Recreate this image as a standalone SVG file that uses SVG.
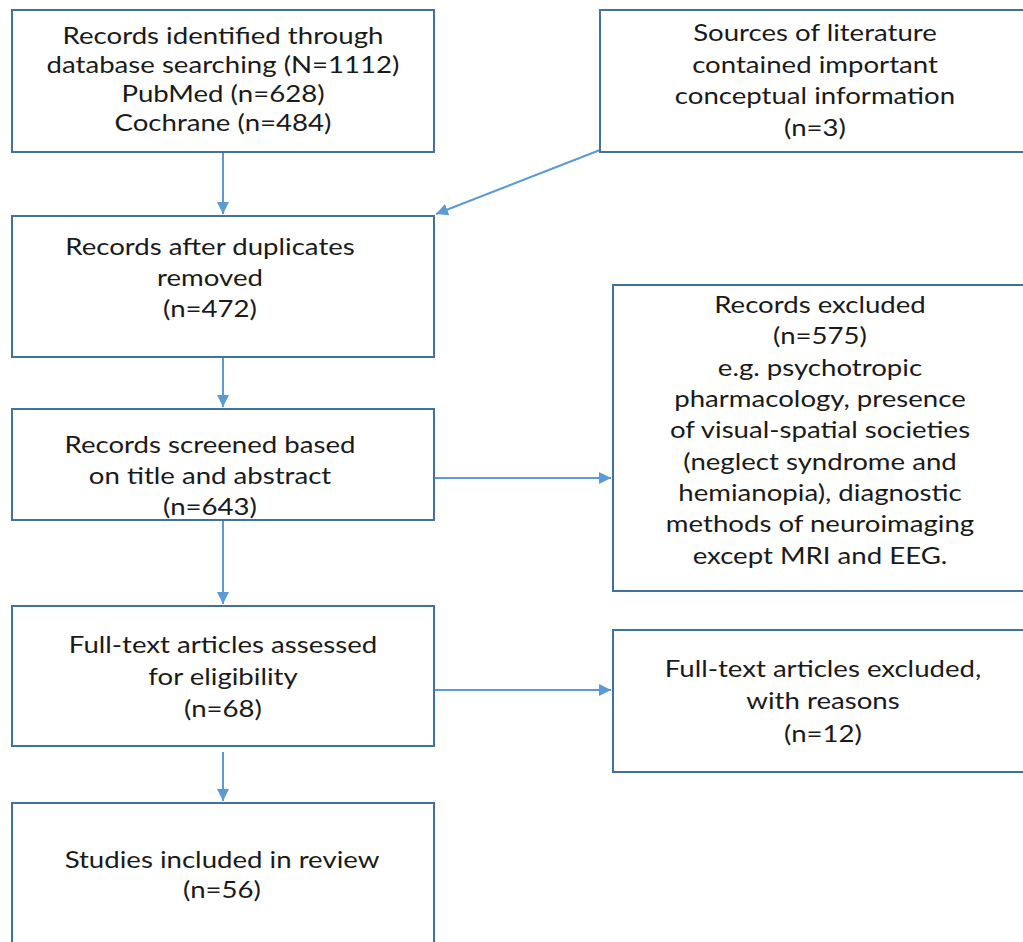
<svg xmlns="http://www.w3.org/2000/svg" width="1023" height="942" viewBox="0 0 1023 942">
<defs>
<style>
.box{fill:#fff;stroke:#41719c;stroke-width:2}
.t{font-family:Lato,"Open Sans","Liberation Sans",sans-serif;font-size:24px;fill:#1a1a1a;text-anchor:middle}
.c{stroke:#5b9bd5;stroke-width:2;fill:none}
</style>
<marker id="ah" viewBox="0 0 10 10" refX="10" refY="5" markerWidth="6" markerHeight="6" markerUnits="strokeWidth" orient="auto">
<path d="M0,0 L10,5 L0,10 z" fill="#5b9bd5"/>
</marker>
</defs>
<rect width="1023" height="942" fill="#fff"/>
<g id="connectors">
<line class="c" x1="223" y1="153" x2="223" y2="214" marker-end="url(#ah)"/>
<line class="c" x1="600" y1="150" x2="436" y2="214" marker-end="url(#ah)"/>
<line class="c" x1="223" y1="358" x2="223" y2="407" marker-end="url(#ah)"/>
<line class="c" x1="435" y1="478" x2="611" y2="478" marker-end="url(#ah)"/>
<line class="c" x1="223" y1="521" x2="223" y2="604" marker-end="url(#ah)"/>
<line class="c" x1="435" y1="690" x2="611" y2="690" marker-end="url(#ah)"/>
<line class="c" x1="223" y1="752" x2="223" y2="801" marker-end="url(#ah)"/>
</g>
<g id="n1">
<rect class="box" x="12" y="10" width="422" height="142"/>
<text class="t" transform="translate(223 0) scale(1.15 1)"><tspan x="0" y="44">Records identified through</tspan><tspan x="0" y="73">database searching (N=1112)</tspan><tspan x="0" y="102">PubMed (n=628)</tspan><tspan x="0" y="131">Cochrane (n=484)</tspan></text>
</g>
<g id="n2">
<rect class="box" x="600" y="10" width="430" height="142"/>
<text class="t" transform="translate(815 0) scale(1.15 1)"><tspan x="0" y="41">Sources of literature</tspan><tspan x="0" y="73">contained important</tspan><tspan x="0" y="104">conceptual information</tspan><tspan x="0" y="136">(n=3)</tspan></text>
</g>
<g id="n3">
<rect class="box" x="12" y="216" width="422" height="141"/>
<text class="t" transform="translate(210 0) scale(1.15 1)"><tspan x="0" y="255">Records after duplicates</tspan><tspan x="0" y="286">removed</tspan><tspan x="0" y="317">(n=472)</tspan></text>
</g>
<g id="n4">
<rect class="box" x="12" y="409" width="422" height="111"/>
<text class="t" transform="translate(210 0) scale(1.15 1)"><tspan x="0" y="453">Records screened based</tspan><tspan x="0" y="484">on title and abstract</tspan><tspan x="0" y="515">(n=643)</tspan></text>
</g>
<g id="n5">
<rect class="box" x="613" y="285" width="420" height="306"/>
<text class="t" transform="translate(820 0) scale(1.15 1)"><tspan x="0" y="313">Records excluded</tspan><tspan x="0" y="344">(n=575)</tspan><tspan x="0" y="376">e.g. psychotropic</tspan><tspan x="0" y="407">pharmacology, presence</tspan><tspan x="0" y="438">of visual-spatial societies</tspan><tspan x="0" y="470">(neglect syndrome and</tspan><tspan x="0" y="501">hemianopia), diagnostic</tspan><tspan x="0" y="532">methods of neuroimaging</tspan><tspan x="0" y="564">except MRI and EEG.</tspan></text>
</g>
<g id="n6">
<rect class="box" x="12" y="606" width="422" height="140"/>
<text class="t" transform="translate(223 0) scale(1.15 1)"><tspan x="0" y="653">Full-text articles assessed</tspan><tspan x="0" y="685">for eligibility</tspan><tspan x="0" y="717">(n=68)</tspan></text>
</g>
<g id="n7">
<rect class="box" x="613" y="630" width="420" height="142"/>
<text class="t" transform="translate(823 0) scale(1.15 1)"><tspan x="0" y="677">Full-text articles excluded,</tspan><tspan x="0" y="709">with reasons</tspan><tspan x="0" y="742">(n=12)</tspan></text>
</g>
<g id="n8">
<rect class="box" x="12" y="803" width="422" height="150"/>
<text class="t" transform="translate(222 0) scale(1.15 1)"><tspan x="0" y="868">Studies included in review</tspan><tspan x="0" y="898">(n=56)</tspan></text>
</g>
</svg>
